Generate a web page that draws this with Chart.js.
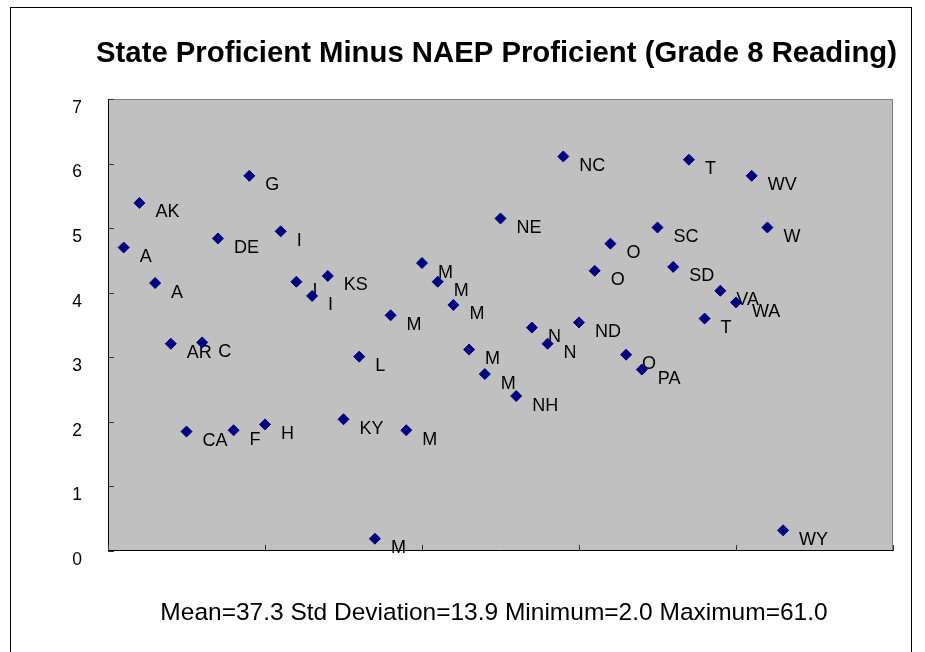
<!DOCTYPE html>
<html>
<head>
<meta charset="utf-8">
<title>State Proficient Minus NAEP Proficient (Grade 8 Reading)</title>
<script src="https://cdn.jsdelivr.net/npm/chart.js@4.4.1/dist/chart.umd.min.js"></script>
<style>
  html, body { margin: 0; padding: 0; background: #ffffff; }
  #wrap { position: relative; width: 925px; height: 652px; }
</style>
</head>
<body>
<div id="wrap"><canvas id="gapChart"></canvas></div>
<script>
// labels as they show next to each marker (most are cut short in the original)
const stateLabels = [
  "A", "AK", "A", "AR", "CA", "C", "DE", "F", "G", "H",
  "I", "I", "I", "KS", "KY", "L", "M", "M", "M", "M",
  "M", "M", "M", "M", "NE", "NH", "N", "N", "NC", "ND",
  "O", "O", "O", "PA", "SC", "SD", "T", "T", "VA", "WA",
  "WV", "W", "WY",
];
// state proficient minus NAEP proficient, in tens of points
const gapValues = [
  4.70, 5.39, 4.15, 3.21, 1.85, 3.23, 4.84, 1.87, 5.81, 1.96,
  4.95, 4.17, 3.95, 4.26, 2.04, 3.01, 0.19, 3.65, 1.87, 4.46,
  4.17, 3.81, 3.12, 2.74, 5.15, 2.40, 3.46, 3.21, 6.11, 3.54,
  4.34, 4.76, 3.04, 2.81, 5.01, 4.40, 6.06, 3.60, 4.03, 3.85,
  5.81, 5.01, 0.32,
];
const yTickLabels = ["0", "1", "2", "3", "4", "5", "6", "7"];
const xTickValues = [0, 10, 20, 30, 40, 50];

const chartTitle = "State Proficient Minus NAEP Proficient (Grade 8 Reading)";
const footerText = "Mean=37.3 Std Deviation=13.9 Minimum=2.0 Maximum=61.0";

const FONT = "Arial, 'Liberation Sans', sans-serif";

// grey plot area, frame, inward tick marks and the outer box
const plotFrame = {
  id: "plotFrame",
  beforeDatasetsDraw(chart) {
    const { ctx, chartArea: a, scales } = chart;
    const left = Math.round(a.left);
    const right = Math.round(a.right);
    const top = Math.round(a.top);
    const bottom = Math.round(a.bottom);
    ctx.save();
    ctx.lineWidth = 1;

    ctx.strokeStyle = "#000000";
    ctx.strokeRect(10.5, 7.5, 901, 700);

    ctx.fillStyle = "#c0c0c0";
    ctx.fillRect(left, top, right - left, bottom - top);

    ctx.strokeStyle = "#808080";
    ctx.beginPath();
    ctx.moveTo(left, top + 0.5);
    ctx.lineTo(right - 0.5, top + 0.5);
    ctx.lineTo(right - 0.5, bottom);
    ctx.stroke();

    ctx.strokeStyle = "#000000";
    ctx.beginPath();
    ctx.moveTo(left + 0.5, top);
    ctx.lineTo(left + 0.5, bottom - 0.5);
    ctx.lineTo(right, bottom - 0.5);
    ctx.stroke();

    ctx.strokeStyle = "#333333";
    ctx.beginPath();
    yTickLabels.forEach((_, i) => {
      const y = Math.round(scales.y.getPixelForValue(i)) + 0.5;
      ctx.moveTo(left, y);
      ctx.lineTo(left + 6, y);
    });
    xTickValues.forEach((v) => {
      const x = Math.round(scales.x.getPixelForValue(v)) + 0.5;
      ctx.moveTo(x, bottom);
      ctx.lineTo(x, bottom - 6);
    });
    ctx.stroke();

    // title and stats line, centred a bit left of the plot like the original
    ctx.fillStyle = "#000000";
    ctx.textAlign = "center";
    ctx.textBaseline = "alphabetic";
    ctx.font = "bold 29.3px " + FONT;
    ctx.fillText(chartTitle, 496.5, 61.5);
    ctx.font = "24.5px " + FONT;
    ctx.fillText(footerText, 494, 620);

    // state tags sit under the markers
    const meta = chart.getDatasetMeta(0);
    ctx.font = "18px " + FONT;
    ctx.textAlign = "left";
    meta.data.forEach((pt, i) => {
      ctx.fillText(stateLabels[i], pt.x + 16, pt.y + 14.5);
    });
    ctx.restore();
  },
};

const gapChart = new Chart(document.getElementById("gapChart"), {
  type: "scatter",
  data: {
    datasets: [
      {
        label: "State minus NAEP",
        data: gapValues.map((v, i) => ({ x: i + 1, y: v })),
        pointStyle: "rectRot",
        pointRadius: 5.5,
        pointHoverRadius: 5.5,
        borderWidth: 1,
        backgroundColor: "#000080",
        borderColor: "#000080",
      },
    ],
  },
  options: {
    responsive: true,
    maintainAspectRatio: false,
    animation: false,
    events: [],
    layout: {
      padding: { left: 0, right: 32, top: 99, bottom: 101 },
    },
    plugins: {
      legend: { display: false },
      tooltip: { enabled: false },
      title: { display: false },
    },
    scales: {
      x: {
        type: "linear",
        display: false,
        min: 0,
        max: 50,
      },
      y: {
        min: 0,
        max: 7,
        afterFit(scale) {
          scale.width = 108;
        },
        ticks: {
          stepSize: 1,
          padding: 26,
          labelOffset: 9,
          color: "#000000",
          font: { family: FONT, size: 17.5 },
          callback: (value) => yTickLabels[value],
        },
        grid: { display: false, drawTicks: false },
        border: { display: false },
      },
    },
  },
  plugins: [plotFrame],
});
</script>
</body>
</html>
